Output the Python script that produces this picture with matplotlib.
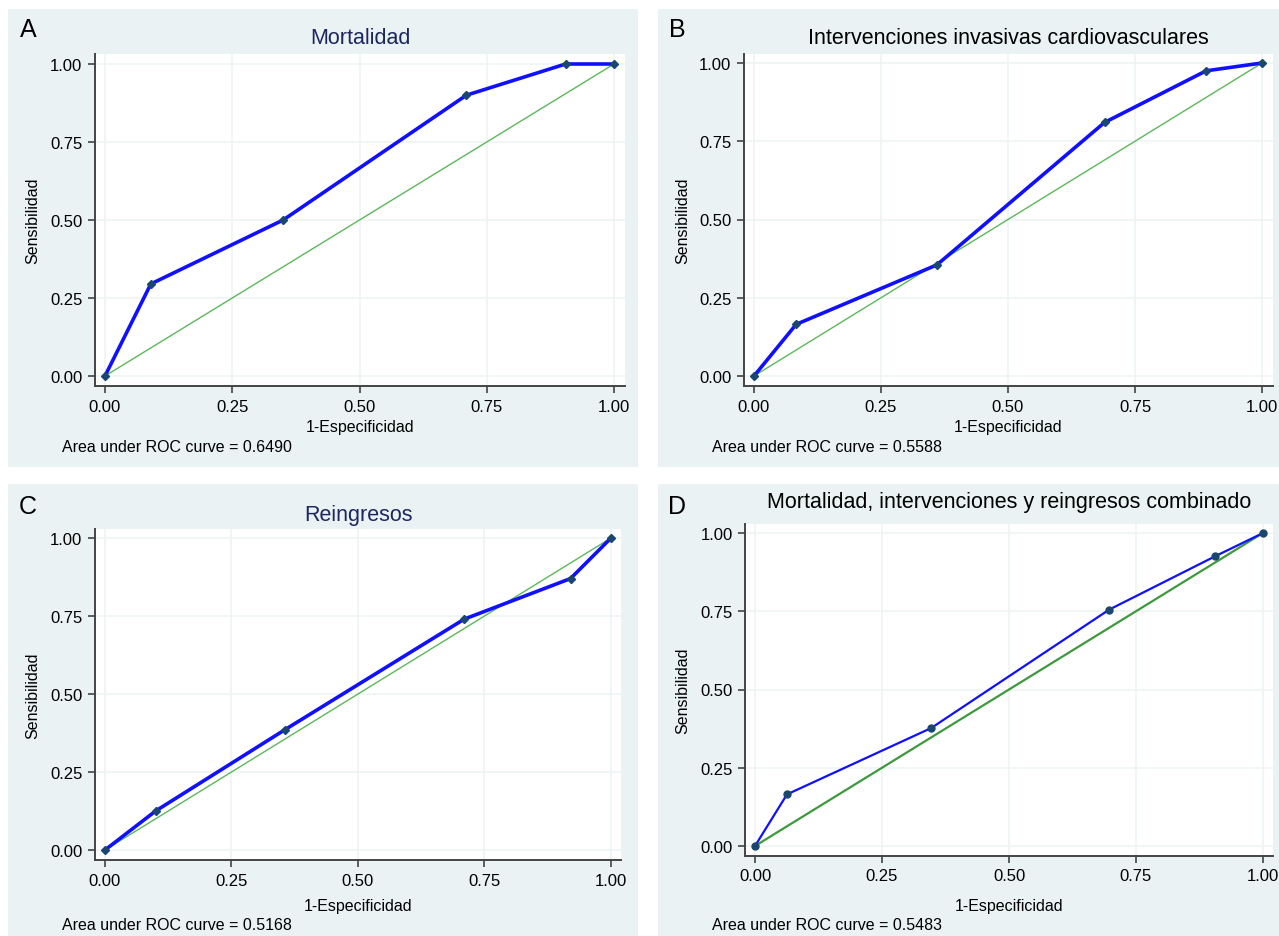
import matplotlib.pyplot as plt
from matplotlib.patches import Rectangle

plt.rcParams['font.family'] = ['Liberation Sans', 'DejaVu Sans']

# ROC points (1-Especificidad, Sensibilidad)
fpr_a = [0.0, 0.09, 0.35, 0.71, 0.905, 1.0]
tpr_a = [0.0, 0.295, 0.50, 0.90, 1.0, 1.0]

fpr_b = [0.0, 0.083, 0.36, 0.69, 0.89, 1.0]
tpr_b = [0.0, 0.165, 0.355, 0.81, 0.975, 1.0]

fpr_c = [0.0, 0.10, 0.355, 0.71, 0.92, 1.0]
tpr_c = [0.0, 0.125, 0.385, 0.74, 0.87, 1.0]

fpr_d = [0.0, 0.063, 0.347, 0.697, 0.905, 1.0]
tpr_d = [0.0, 0.165, 0.377, 0.755, 0.925, 1.0]

titles = ["Mortalidad", "Intervenciones invasivas cardiovasculares",
          "Reingresos", "Mortalidad, intervenciones y reingresos combinado"]
letters = ["A", "B", "C", "D"]
aucs = ["0.6490", "0.5588", "0.5168", "0.5483"]
ticks = [0.0, 0.25, 0.5, 0.75, 1.0]
tick_labels = ["0.00", "0.25", "0.50", "0.75", "1.00"]

W, H = 1279, 937
BG = "#eaf2f3"
NAVY = "#1a476f"

fig = plt.figure(figsize=(W / 100, H / 100), dpi=100)
fig.patch.set_facecolor("white")


def fx(px):
    return px / W


def fy(py):
    return 1 - py / H


# panel layout in pixels: background box, axes box, data pixel positions
panels = [
    dict(bg=(8, 10, 638, 468), ax=(95, 55, 625, 387), x0=105, x1=614, y1=65, y0=377,
         title_y=38, letter=(28, 30), tick_y=407, xlab_y=428, note=(62, 448), title_color="#1c2760"),
    dict(bg=(658, 10, 1279, 468), ax=(744, 55, 1273, 387), x0=754, x1=1262, y1=64, y0=377,
         title_y=39, letter=(677, 30), tick_y=407, xlab_y=428, note=(712, 448), title_color="black"),
    dict(bg=(8, 485, 638, 937), ax=(95, 530, 621, 861), x0=105, x1=611, y1=539, y0=851,
         title_y=515, letter=(28, 507), tick_y=881, xlab_y=907, note=(62, 926), title_color="#1c2760"),
    dict(bg=(658, 485, 1279, 937), ax=(745, 525, 1273, 857), x0=755, x1=1263, y1=534, y0=847,
         title_y=503, letter=(677, 507), tick_y=877, xlab_y=907, note=(712, 926), title_color="black"),
]
series = [(fpr_a, tpr_a), (fpr_b, tpr_b), (fpr_c, tpr_c), (fpr_d, tpr_d)]

for i, p in enumerate(panels):
    bx0, by0, bx1, by1 = p["bg"]
    fig.patches.append(Rectangle((fx(bx0), fy(by1)), fx(bx1 - bx0), (by1 - by0) / H,
                                 transform=fig.transFigure, facecolor=BG,
                                 edgecolor="none", zorder=-5))

    l, t, r, b = p["ax"]
    ax = fig.add_axes([fx(l), fy(b), fx(r - l), (b - t) / H])
    ax.set_facecolor("white")

    xs = p["x1"] - p["x0"]
    ys = p["y0"] - p["y1"]
    ax.set_xlim(-(p["x0"] - l) / xs, 1 + (r - p["x1"]) / xs)
    ax.set_ylim(-(b - p["y0"]) / ys, 1 + (p["y1"] - t) / ys)

    fpr, tpr = series[i]
    if i == 3:
        ax.plot([0, 1], [0, 1], color="#3c9a3c", lw=1.6, zorder=2)
        ax.plot(fpr, tpr, color="#1010ff", lw=1.6, zorder=3,
                marker="o", ms=5, mfc=NAVY, mec=NAVY)
    else:
        ax.plot([0, 1], [0, 1], color="#5cb85c", lw=1.0, zorder=2)
        ax.plot(fpr, tpr, color="#1010ff", lw=2.6, zorder=3,
                marker="D", ms=4.5, mfc=NAVY, mec=NAVY)

    ax.set_xticks(ticks)
    ax.set_yticks(ticks)
    ax.set_xticklabels(tick_labels)
    ax.set_yticklabels(tick_labels)
    ax.tick_params(labelsize=12, length=5, width=1.2, color="#444444", pad=4)
    ax.tick_params(axis="x", pad=(p["tick_y"] - b) - 16)
    ax.grid(True, color="#eef4f5", lw=1.2)
    ax.set_axisbelow(True)
    for s in ["top", "right"]:
        ax.spines[s].set_visible(False)
    for s in ["left", "bottom"]:
        ax.spines[s].set_color("#444444")
        ax.spines[s].set_linewidth(1.4)

    cx = fx((l + r) / 2)
    fig.text(cx, fy(p["title_y"]), titles[i], ha="center", va="center",
             fontsize=15.5, color=p["title_color"])
    fig.text(fx(p["letter"][0]), fy(p["letter"][1]), letters[i], ha="center",
             va="center", fontsize=18)
    fig.text(cx, fy(p["xlab_y"]), "1-Especificidad", ha="center", va="center",
             fontsize=11.5)
    fig.text(fx(bx0 + 25), fy((t + b) / 2), "Sensibilidad", ha="center", va="center",
             rotation=90, fontsize=11.5)
    fig.text(fx(p["note"][0]), fy(p["note"][1]), "Area under ROC curve = " + aucs[i],
             ha="left", va="center", fontsize=11.5)

fig.savefig("out.png", dpi=100, facecolor="white")
